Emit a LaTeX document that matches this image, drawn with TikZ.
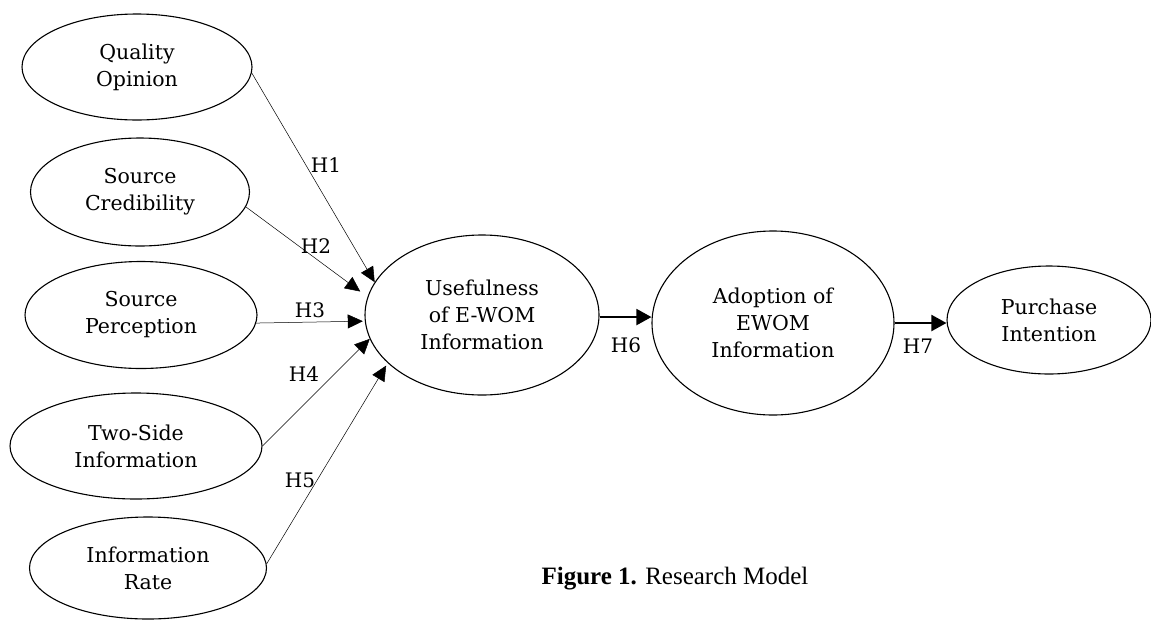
\documentclass[tikz,border=0pt]{standalone}
\usepackage{fontspec}
\setmainfont{DejaVu Serif}
\newfontfamily\capfont{Liberation Serif}
\usetikzlibrary{shapes.geometric,arrows.meta}
\tikzset{
  construct/.style={draw, ellipse, line width=1.1pt, inner sep=0pt, align=center,
    font=\fontsize{20.5}{27}\selectfont},
  thinarrow/.style={line width=0.5pt, -{Triangle[length=15pt,width=14pt]}},
  thickarrow/.style={line width=2pt, -{Triangle[length=15pt,width=16pt]}},
  hlabel/.style={font=\fontsize{20}{24}\selectfont, inner sep=0pt}
}
\begin{document}
\begin{tikzpicture}[x=1pt,y=-1pt]
\useasboundingbox (0,0) rectangle (1151,619);
\node[construct, minimum width=230pt, minimum height=106pt] (qo) at (137,67) {Quality\\Opinion};
\node[construct, minimum width=219pt, minimum height=108pt] (sc) at (140,192) {Source\\Credibility};
\node[construct, minimum width=232pt, minimum height=107pt] (sp) at (141,315) {Source\\Perception};
\node[construct, minimum width=252pt, minimum height=106pt] (ts) at (136,446) {Two-Side\\Information};
\node[construct, minimum width=237pt, minimum height=102pt] (ir) at (148,568) {Information\\Rate};
\node[construct, minimum width=234pt, minimum height=160pt] (use) at (482,315) {Usefulness\\of E-WOM\\Information};
\node[construct, minimum width=242pt, minimum height=184pt] (ad) at (773,323) {Adoption of\\EWOM\\Information};
\node[construct, minimum width=204pt, minimum height=108pt] (pi) at (1049,320) {Purchase\\Intention};

\draw[thinarrow] (qo.-3) -- (use.163);
\draw[thinarrow, shorten >=9pt] (sc.-8) -- (use.171.5);
\draw[thinarrow, shorten >=2pt] (sp.-4) -- (use.183.4);
\draw[thinarrow] (ts.0) -- (use.192.6);
\draw[thinarrow, shorten >=3pt] (ir.2) -- (use.207.8);
\draw[thickarrow] (use.-1) -- (use.-1 -| ad.west);
\draw[thickarrow] (ad.east) -- (ad.east -| pi.west);

\node[hlabel] (h1) at (326,165) {H1};
\node[hlabel] (h2) at (316,246) {H2};
\node[hlabel] (h3) at (310,310) {H3};
\node[hlabel] (h4) at (304,374) {H4};
\node[hlabel] (h5) at (300,480) {H5};
\node[hlabel] (h6) at (626,345) {H6};
\node[hlabel] (h7) at (918,346) {H7};

\node[font=\capfont\fontsize{25}{30}\selectfont, inner sep=0pt] (cap) at (675,579) {\textbf{Figure 1.} Research Model};
\end{tikzpicture}
\end{document}
